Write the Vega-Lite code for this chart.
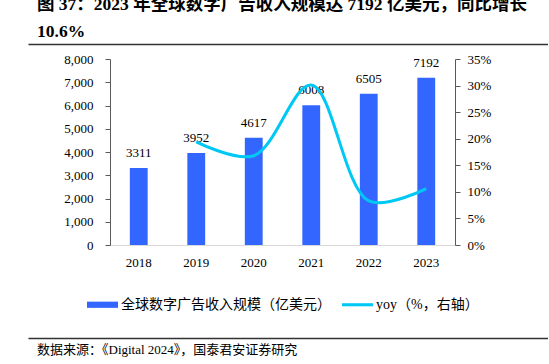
{
  "$schema": "https://vega.github.io/schema/vega-lite/v6.json",
  "padding": {"left": 28, "top": -5, "right": 0, "bottom": 0},
  "background": "white",
  "config": {
    "view": {"stroke": null},
    "font": "Liberation Serif, Noto Sans CJK SC",
    "axis": {"labelFont": "Liberation Serif", "labelFontSize": 13, "labelColor": "#000", "grid": false, "title": null},
    "legend": {"layout": {"bottom": {"anchor": "middle"}}}
  },
  "spacing": 9,
  "vconcat": [
    {
      "width": 520,
      "height": 1,
      "title": {
        "text": ["图 37：2023 年全球数字广告收入规模达 7192 亿美元，同比增长", "10.6%"],
        "anchor": "start",
        "dx": 9,
        "fontSize": 17.5,
        "fontWeight": "bold",
        "lineHeight": 27,
        "offset": 3,
        "color": "#000",
        "font": "Liberation Serif, Noto Sans CJK SC"
      },
      "data": {"values": [{}]},
      "mark": {"type": "point", "size": 0, "opacity": 0},
      "encoding": {
        "x": {"datum": 0, "type": "quantitative", "scale": {"domain": [0, 1]},
              "axis": {"orient": "bottom", "labels": false, "ticks": false, "domainColor": "#333", "domainWidth": 1.3, "minExtent": 0}}
      }
    },
    {
      "spacing": 0,
      "resolve": {"scale": {"color": "independent"}, "legend": {"color": "independent"}},
      "hconcat": [
        {
          "width": 1,
          "height": 1,
          "data": {"values": [{}]},
          "mark": {"type": "point", "size": 0, "opacity": 0}
        },
        {
          "width": 345,
          "height": 186,
          "data": {
            "values": [
              {"year": "2018", "revenue": 3311, "yoy": null},
              {"year": "2019", "revenue": 3952, "yoy": 0.194},
              {"year": "2020", "revenue": 4617, "yoy": 0.168},
              {"year": "2021", "revenue": 6008, "yoy": 0.301},
              {"year": "2022", "revenue": 6505, "yoy": 0.083},
              {"year": "2023", "revenue": 7192, "yoy": 0.106}
            ]
          },
          "encoding": {
            "x": {
              "field": "year",
              "type": "ordinal",
              "scale": {"paddingInner": 0.69, "paddingOuter": 0.345},
              "axis": {"labelAngle": 0, "ticks": false, "labelPadding": 11, "domainColor": "#d9d9d9", "domainWidth": 1}
            }
          },
          "layer": [
            {
              "encoding": {
                "y": {
                  "field": "revenue",
                  "type": "quantitative",
                  "scale": {"domain": [0, 8000]},
                  "axis": {"values": [0,1000,2000,3000,4000,5000,6000,7000,8000], "format": ",d", "tickSize": 5, "labelPadding": 12, "domainColor": "#595959", "tickColor": "#595959", "minExtent": 81}
                }
              },
              "layer": [
                {
                  "mark": {"type": "bar"},
                  "encoding": {
                    "color": {
                      "datum": "全球数字广告收入规模（亿美元）",
                      "scale": {"domain": ["全球数字广告收入规模（亿美元）", "yoy（%，右轴）"], "range": ["#3366FF", "#00C8F5"]},
                      "legend": {
                        "title": null,
                        "orient": "bottom",
                        "direction": "horizontal",
                        "labelFont": "Liberation Serif, Noto Sans CJK SC",
                        "labelFontSize": 14,
                        "labelColor": "#000",
                        "labelLimit": 400,
                        "symbolSize": 961,
                        "labelOffset": 3,
                        "columnPadding": 11,
                        "offset": 3,
                        "padding": 17,
                        "encode": {
                          "symbols": {
                            "update": {
                              "shape": {"signal": "datum.value === 'yoy（%，右轴）' ? 'M-1,-0.1L1,-0.1L1,0.1L-1,0.1Z' : 'M-1,-0.2L1,-0.2L1,0.2L-1,0.2Z'"},
                              "fill": {"scale": "color", "field": "value"},
                              "stroke": {"value": null},
                              "strokeWidth": {"value": 0},
                              "opacity": {"value": 1},
                              "fillOpacity": {"value": 1}
                            }
                          }
                        }
                      }
                    }
                  }
                },
                {
                  "mark": {"type": "text", "dy": -15, "fontSize": 13, "font": "Liberation Serif", "color": "#000"},
                  "encoding": {"text": {"field": "revenue", "type": "quantitative", "format": "d"}}
                }
              ]
            },
            {
              "mark": {"type": "line", "interpolate": "catmull-rom", "strokeWidth": 3},
              "encoding": {
                "y": {
                  "field": "yoy",
                  "type": "quantitative",
                  "scale": {"domain": [0, 0.35]},
                  "axis": {"orient": "right", "values": [0,0.05,0.1,0.15,0.2,0.25,0.3,0.35], "format": ".0%", "tickSize": 5, "labelPadding": 7, "domainColor": "#595959", "tickColor": "#595959"}
                },
                "color": {"datum": "yoy（%，右轴）"}
              }
            }
          ],
          "resolve": {"scale": {"y": "independent"}}
        }
      ]
    },
    {
      "width": 520,
      "height": 1,
      "title": {
        "text": "数据来源：《Digital 2024》，国泰君安证券研究",
        "orient": "bottom",
        "anchor": "start",
        "dx": 9,
        "fontSize": 13,
        "fontWeight": "normal",
        "offset": 5,
        "color": "#000",
        "font": "Liberation Serif, Noto Sans CJK SC"
      },
      "data": {"values": [{}]},
      "mark": {"type": "point", "size": 0, "opacity": 0},
      "encoding": {
        "x": {"datum": 0, "type": "quantitative", "scale": {"domain": [0, 1]},
              "axis": {"orient": "top", "labels": false, "ticks": false, "domainColor": "#333", "domainWidth": 1.3, "minExtent": 0}}
      }
    }
  ]
}
